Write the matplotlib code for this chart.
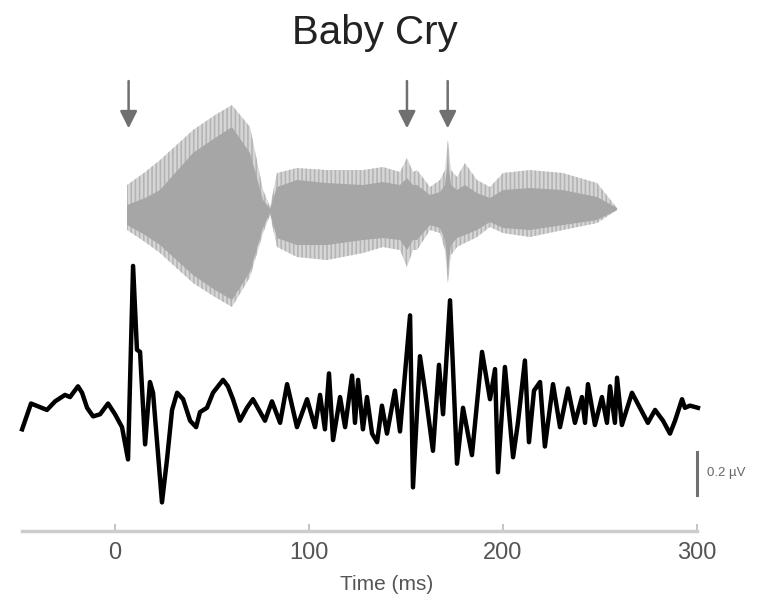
import numpy as np
import matplotlib
matplotlib.use("Agg")
import matplotlib.pyplot as plt

plt.rcParams['font.family'] = ['Liberation Sans', 'DejaVu Sans']
plt.rcParams['hatch.linewidth'] = 1.2

# EEG response (time in ms, amplitude in uV)
resp_t = [-47.9, -43.3, -35.1, -30.9, -25.8, -23.2, -19.1, -17.0, -14.4, -11.3,
          -7.7, -3.6, 0.0, 3.6, 6.7, 9.3, 11.3, 12.9, 15.5, 18.0,
          19.6, 24.2, 26.8, 29.4, 32.0, 35.1, 38.7, 41.8, 43.8, 47.4,
          50.5, 53.1, 55.7, 58.2, 60.8, 64.4, 68.0, 71.1, 77.3, 80.9,
          85.1, 88.7, 93.8, 99.0, 103.1, 105.7, 108.2, 110.3, 112.4, 116.0,
          118.6, 122.2, 123.7, 125.3, 127.8, 129.9, 132.5, 135.1, 137.6, 140.2,
          144.3, 146.9, 152.1, 153.6, 157.2, 159.8, 163.9, 167.0, 169.1, 172.7,
          174.2, 176.3, 179.4, 184.0, 189.2, 193.3, 195.9, 197.4, 201.0, 205.2,
          207.7, 211.3, 213.4, 216.0, 219.1, 221.6, 225.8, 229.4, 233.5, 237.1,
          240.7, 242.3, 243.8, 247.4, 251.0, 253.6, 255.2, 257.7, 258.8, 261.3,
          266.5, 270.6, 274.7, 278.4, 282.5, 286.1, 288.7, 292.3, 293.8, 296.4,
          300.5]
resp_uv = [-0.09, 0.03, 0.00, 0.04, 0.07, 0.06, 0.11, 0.08, 0.01, -0.03,
           -0.02, 0.03, -0.02, -0.08, -0.23, 0.67, 0.28, 0.27, -0.16, 0.13,
           0.08, -0.43, -0.23, 0.00, 0.08, 0.05, -0.05, -0.08, -0.01, 0.01,
           0.08, 0.11, 0.14, 0.11, 0.05, -0.05, 0.01, 0.05, -0.05, 0.04,
           -0.06, 0.12, -0.08, 0.05, -0.08, 0.07, -0.09, 0.17, -0.14, 0.06,
           -0.08, 0.16, -0.06, 0.14, -0.09, 0.06, -0.11, -0.15, 0.02, -0.11,
           0.09, -0.10, 0.44, -0.36, 0.25, 0.09, -0.19, 0.21, -0.02, 0.51,
           0.20, -0.25, 0.01, -0.21, 0.27, 0.05, 0.19, -0.29, 0.20, -0.22,
           -0.06, 0.23, -0.15, 0.09, 0.13, -0.17, 0.12, -0.08, 0.10, -0.06,
           0.06, -0.06, 0.12, -0.07, 0.06, -0.06, 0.11, -0.06, 0.15, -0.07,
           0.08, 0.01, -0.06, 0.00, -0.05, -0.11, -0.05, 0.05, 0.01, 0.02,
           0.01]

# stimulus envelope (normalised amplitude)
stim_t = [6.2, 15.5, 23.2, 40.2, 51.5, 60.3, 69.6, 76.3, 79.9, 83.5,
          93.8, 109.3, 127.8, 138.1, 146.9, 150.5, 153.6, 155.7, 162.4, 167.5,
          170.1, 171.6, 173.2, 176.3, 180.4, 186.6, 193.3, 200.0, 213.9, 230.9,
          248.5, 258.8]
stim_outer_hi = [0.25, 0.38, 0.50, 0.80, 0.95, 1.05, 0.83, 0.20, 0.03, 0.37,
                 0.42, 0.40, 0.40, 0.43, 0.38, 0.52, 0.38, 0.40, 0.23, 0.30,
                 0.40, 0.70, 0.40, 0.33, 0.47, 0.30, 0.23, 0.37, 0.40, 0.37,
                 0.27, 0.02]
stim_outer_lo = [-0.20, -0.32, -0.43, -0.73, -0.87, -0.97, -0.67, -0.23, -0.05, -0.37,
                 -0.47, -0.50, -0.43, -0.37, -0.40, -0.57, -0.40, -0.40, -0.20, -0.23,
                 -0.40, -0.73, -0.45, -0.37, -0.33, -0.27, -0.17, -0.23, -0.27, -0.20,
                 -0.13, 0.00]
stim_inner_hi = [0.05, 0.12, 0.20, 0.57, 0.72, 0.83, 0.57, 0.10, 0.01, 0.23,
                 0.30, 0.27, 0.25, 0.28, 0.25, 0.32, 0.25, 0.25, 0.15, 0.18,
                 0.25, 0.50, 0.25, 0.20, 0.25, 0.17, 0.12, 0.20, 0.22, 0.20,
                 0.13, 0.02]
stim_inner_lo = [-0.15, -0.25, -0.35, -0.65, -0.80, -0.90, -0.62, -0.18, -0.03, -0.28,
                 -0.35, -0.35, -0.30, -0.28, -0.30, -0.40, -0.30, -0.30, -0.15, -0.18,
                 -0.30, -0.60, -0.35, -0.28, -0.25, -0.20, -0.12, -0.18, -0.20, -0.15,
                 -0.10, 0.00]

arrow_times = [7.0, 150.5, 171.5]
xticks = [0, 100, 200, 300]

# layout constants (uV / ms)
stim_offset = 0.93
stim_scale = 0.465
arrow_top, arrow_tip = 1.53, 1.31
axis_y = -0.563

fig = plt.figure(figsize=(7.73, 6.03), dpi=100)
ax = fig.add_axes([0, 0, 1, 1])
ax.set_xlim(-59.3, 339.2)
ax.set_ylim(-0.898, 1.907)

st = np.array(stim_t)
ax.fill_between(st, stim_offset + stim_scale * np.array(stim_outer_lo),
                stim_offset + stim_scale * np.array(stim_outer_hi),
                facecolor='#d6d6d6', edgecolor='#b4b4b4', hatch='||||', linewidth=0)
ax.fill_between(st, stim_offset + stim_scale * np.array(stim_inner_lo),
                stim_offset + stim_scale * np.array(stim_inner_hi),
                facecolor='#a6a6a6', linewidth=0)

ax.plot(resp_t, resp_uv, color='black', lw=3.2, solid_joinstyle='round')

for t in arrow_times:
    ax.annotate('', xy=(t, arrow_tip), xytext=(t, arrow_top),
                arrowprops=dict(arrowstyle='-|>', color='#707070', lw=1.8,
                                mutation_scale=26, shrinkA=0, shrinkB=0))

# scale bar
ax.plot([300, 300], [-0.195, -0.395], color='#707070', lw=2.2)
ax.text(305, -0.295, '0.2 µV', fontsize=9.5, color='#666666', va='center', ha='left')

fig.text(0.485, 0.945, 'Baby Cry', fontsize=29, color='#222222', ha='center', va='center')

for s in ['top', 'left', 'right']:
    ax.spines[s].set_visible(False)
ax.spines['bottom'].set_position(('data', axis_y))
ax.spines['bottom'].set_bounds(-48, 300)
ax.spines['bottom'].set_color('#cccccc')
ax.spines['bottom'].set_linewidth(2.5)
ax.set_yticks([])
ax.set_xticks(xticks)
ax.tick_params(axis='x', direction='in', length=5, width=1.2, color='#bbbbbb',
               labelsize=17, labelcolor='#555555', pad=8)
ax.set_xlabel('Time (ms)', fontsize=15, color='#555555', labelpad=8)
ax.patch.set_alpha(0)

fig.savefig('out.png', dpi=100)
